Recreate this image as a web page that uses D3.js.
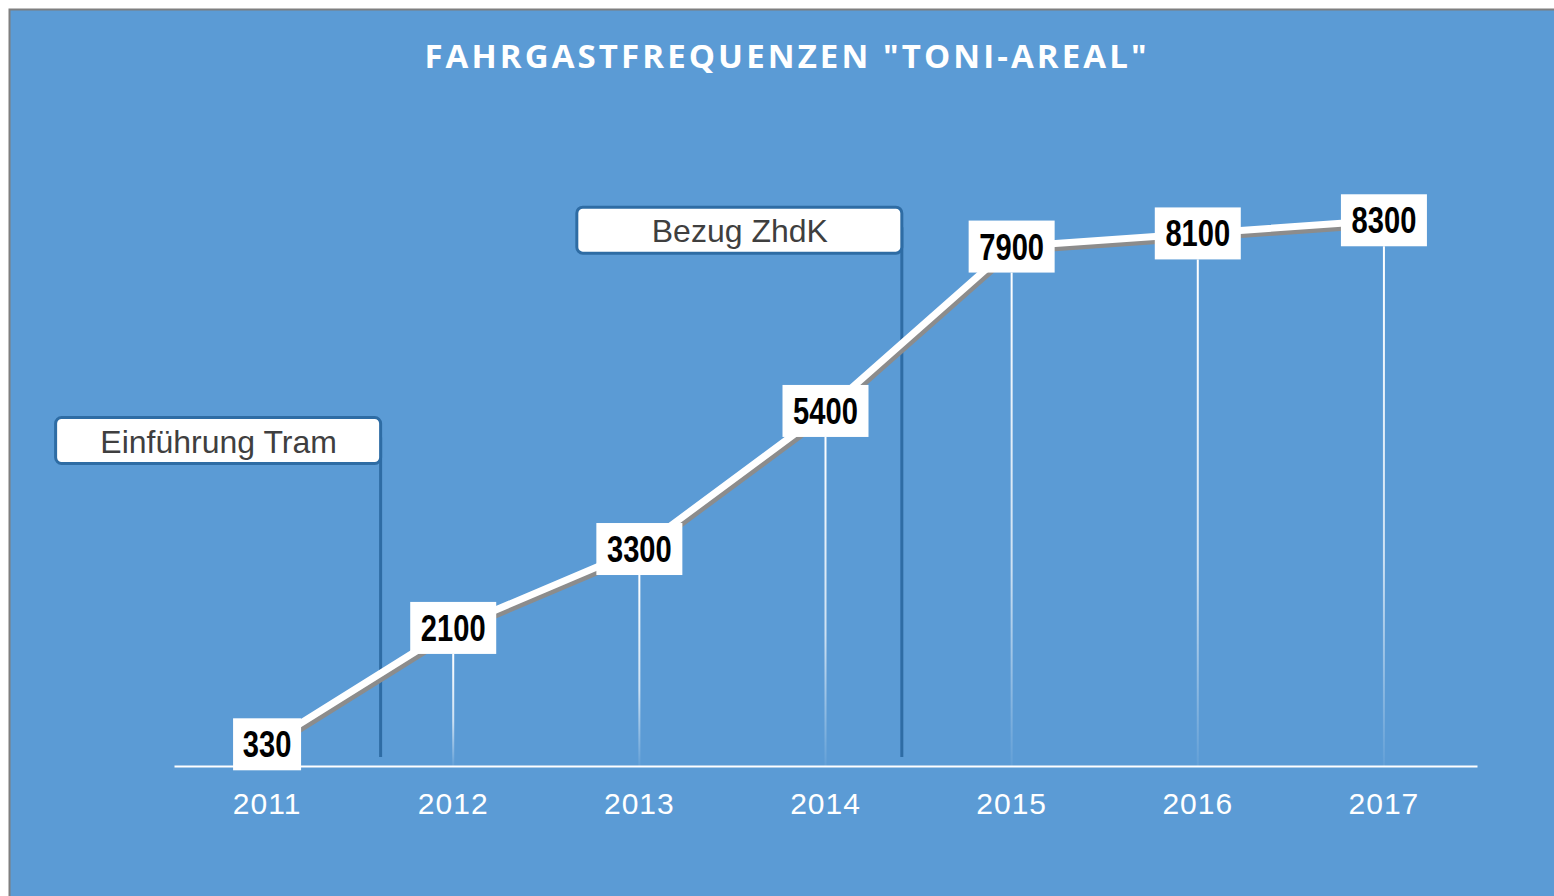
<!DOCTYPE html>
<html>
  <head>
    <meta charset="utf-8">
    <script src="https://cdn.jsdelivr.net/npm/d3@7"></script>
    <style>
      body { margin: 0; background: #fff; }
      svg { display: block; }
    </style>
  </head>
  <body>
    <svg id="chart" width="1554" height="896"></svg>
    <script>
        // data
        var years = ["2011", "2012", "2013", "2014", "2015", "2016", "2017"];
        var riders = [330, 2100, 3300, 5400, 7900, 8100, 8300];
        var title = 'FAHRGASTFREQUENZEN "TONI-AREAL"';
        // events: label, year it follows, share of a step past that year, box top value
        var eventLabels = ["Einführung Tram", "Bezug ZhdK"];
        var eventAfter = ["2011", "2014"];
        var eventShift = [0.61, 0.41];
        var eventTop = [5300, 8500];

        var svg = d3.select("#chart");

        // frame + blue background
        svg.append("rect")
          .attr("x", 9.5).attr("y", 9.5)
          .attr("width", 1600).attr("height", 1000)
          .attr("fill", "#5B9BD5")
          .attr("stroke", "#7f7f7f")
          .attr("stroke-width", 2);

        svg.append("text")
          .attr("x", 787).attr("y", 68)
          .attr("text-anchor", "middle")
          .attr("fill", "#fff")
          .style("font", "bold 33px 'Open Sans', sans-serif")
          .style("letter-spacing", "3.1px")
          .text(title);

        var x = d3.scaleBand().domain(years).range([174, 1477]);
        var y = d3.scaleLinear().domain([0, 10000]).range([766, 108.5]);
        var cx = function(d) { return x(d) + x.bandwidth() / 2; };

        // gradient for the drop lines
        var grad = svg.append("defs").append("linearGradient")
          .attr("id", "fade").attr("x1", 0).attr("y1", 0).attr("x2", 0).attr("y2", 1);
        grad.append("stop").attr("offset", "0%").attr("stop-color", "#fff").attr("stop-opacity", 1);
        grad.append("stop").attr("offset", "60%").attr("stop-color", "#fff").attr("stop-opacity", 0.7);
        grad.append("stop").attr("offset", "100%").attr("stop-color", "#fff").attr("stop-opacity", 0.05);

        var pts = years.map(function(yr, i) { return { year: yr, value: riders[i] }; });

        // drop lines (rects so the gradient works on vertical strokes)
        svg.selectAll("rect.drop").data(pts.filter(function(d) { return y(d.value) + 26 < y(0); }))
          .enter().append("rect")
          .attr("class", "drop")
          .attr("x", function(d) { return cx(d.year) - 1; })
          .attr("width", 2)
          .attr("y", function(d) { return y(d.value) + 26; })
          .attr("height", function(d) { return y(0) - y(d.value) - 26; })
          .attr("fill", "url(#fade)");

        // x axis
        var axis = svg.append("g")
          .attr("transform", "translate(0," + y(0) + ")")
          .call(d3.axisBottom(x).tickSize(0).tickPadding(27));
        axis.select(".domain").attr("stroke", "#fff").attr("stroke-width", 2);
        axis.selectAll("text")
          .attr("fill", "#fff")
          .style("font", "30px 'Liberation Sans', Arial, sans-serif")
          .style("letter-spacing", "1px");

        // event markers
        var events = eventLabels.map(function(l, i) {
          return { label: l, xp: cx(eventAfter[i]) + eventShift[i] * x.step(), top: eventTop[i] };
        });
        var ev = svg.selectAll("g.event").data(events).enter().append("g").attr("class", "event");
        ev.append("line")
          .attr("x1", function(d) { return d.xp; })
          .attr("x2", function(d) { return d.xp; })
          .attr("y1", function(d) { return y(d.top) + 20; })
          .attr("y2", y(0) - 9)
          .attr("stroke", "#2E6CA4")
          .attr("stroke-width", 3);
        ev.append("rect")
          .attr("x", function(d) { return d.xp - 325; })
          .attr("y", function(d) { return y(d.top); })
          .attr("width", 325).attr("height", 46)
          .attr("rx", 6)
          .attr("fill", "#fff")
          .attr("stroke", "#2E6CA4")
          .attr("stroke-width", 3);
        ev.append("text")
          .attr("x", function(d) { return d.xp - 162; })
          .attr("y", function(d) { return y(d.top) + 35; })
          .attr("text-anchor", "middle")
          .attr("fill", "#3f3f3f")
          .style("font", "32px 'Liberation Sans', Arial, sans-serif")
          .text(function(d) { return d.label; });

        // the line with a grey shadow
        var line = d3.line().x(function(d) { return cx(d.year); }).y(function(d) { return y(d.value); });
        svg.append("path").datum(pts)
          .attr("d", line)
          .attr("transform", "translate(2,4)")
          .attr("fill", "none")
          .attr("stroke", "#8c8c8c")
          .attr("stroke-width", 7);
        svg.append("path").datum(pts)
          .attr("d", line)
          .attr("fill", "none")
          .attr("stroke", "#fff")
          .attr("stroke-width", 7);

        // value labels (narrow bold digits)
        var lab = svg.selectAll("g.lab").data(pts).enter().append("g")
          .attr("class", "lab")
          .attr("transform", function(d) { return "translate(" + cx(d.year) + "," + y(d.value) + ")"; });
        lab.append("rect")
          .attr("x", function(d) { return String(d.value).length > 3 ? -43 : -34; })
          .attr("width", function(d) { return String(d.value).length > 3 ? 86 : 68; })
          .attr("y", -26).attr("height", 52)
          .attr("fill", "#fff");
        lab.append("text")
          .attr("text-anchor", "middle")
          .attr("y", 13)
          .attr("fill", "#000")
          .attr("textLength", function(d) { return String(d.value).length * 16.2; })
          .attr("lengthAdjust", "spacingAndGlyphs")
          .style("font", "bold 36px 'Liberation Sans', sans-serif")
          .text(function(d) { return d.value; });
    </script>
  </body>
</html>
